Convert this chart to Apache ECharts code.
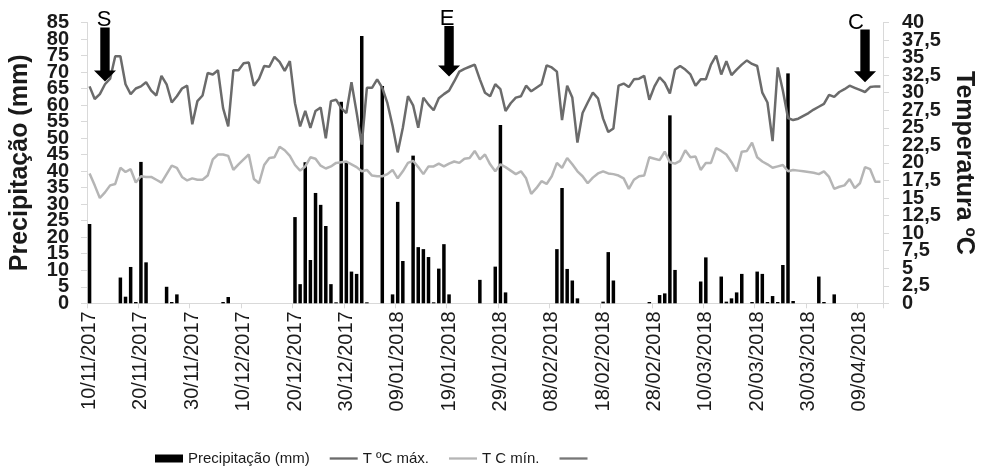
<!DOCTYPE html>
<html>
<head>
<meta charset="utf-8">
<script src="https://cdn.jsdelivr.net/npm/echarts@6/dist/echarts.min.js"></script>
<style>
html,body{margin:0;padding:0;background:#fff;}
#chart{width:984px;height:476px;}
</style>
</head>
<body>
<div id="chart"></div>
<script>
// ---- data (daily, 10/11/2017 .. 13/04/2018) ----
const startDay = [2017, 10, 10]; // year, month index, day
const dayCount = 155;

const precipitation = [
  24, 0, 0, 0, 0, 0, 7.8, 2, 11, 0.4,
  42.8, 12.4, 0, 0, 0, 5, 0.4, 2.7, 0, 0,
  0, 0, 0, 0, 0, 0, 0.4, 1.9, 0, 0,
  0, 0, 0, 0, 0, 0, 0, 0, 0, 0,
  26.1, 5.8, 42.7, 13.1, 33.4, 29.8, 23.4, 5.8, 0.3, 61,
  42.5, 9.6, 8.9, 80.9, 0.3, 0, 0, 65.8, 0, 2.7,
  30.7, 12.8, 0, 44.7, 17, 16.4, 14, 0.3, 10.5, 17.9,
  2.7, 0, 0, 0, 0, 0, 7.1, 0, 0, 11.1,
  54, 3.3, 0, 0, 0, 0, 0, 0, 0, 0,
  0, 16.4, 34.9, 10.4, 6.9, 1.5, 0, 0, 0, 0,
  0.5, 15.5, 6.9, 0, 0, 0, 0, 0, 0, 0.4,
  0, 2.5, 3, 56.9, 10.1, 0, 0, 0, 0, 6.6,
  13.9, 0, 0, 8.1, 0.5, 1.5, 3.3, 8.9, 0, 0.4,
  9.6, 8.9, 0.4, 2.2, 0.4, 11.6, 69.6, 0.7, 0, 0,
  0, 0, 8.1, 0.4, 0, 2.7, 0, 0, 0, 0,
  0, 0, 0, 0, 0
];

const tempMax = [
  30.9, 29.1, 29.8, 31.2, 32.0, 35.2, 35.2, 31.2, 29.8, 30.6,
  30.9, 31.5, 30.3, 29.6, 32.4, 31.2, 28.6, 29.5, 30.6, 31.0,
  25.5, 28.8, 29.6, 32.8, 32.6, 33.2, 27.8, 25.2, 33.2, 33.2,
  34.2, 34.3, 31.0, 32.0, 33.8, 33.7, 35.1, 34.4, 33.1, 34.5,
  28.5, 25.2, 27.4, 25.0, 27.4, 27.9, 23.5, 28.8, 29.0, 27.8,
  27.1, 31.5, 27.2, 22.6, 30.7, 30.7, 31.9, 30.7, 28.5, 25.3,
  21.5, 25.0, 29.5, 28.2, 25.0, 29.3, 28.3, 27.5, 29.2, 29.8,
  30.3, 31.6, 33.0, 33.4, 33.7, 34.0, 31.9, 30.0, 29.5, 31.2,
  30.5, 27.4, 28.5, 29.3, 29.5, 31.0, 30.2, 30.7, 31.2, 33.9,
  33.6, 33.0, 26.1, 31.0, 29.3, 22.9, 27.1, 28.6, 30.0, 29.2,
  26.3, 24.4, 24.9, 31.0, 31.3, 30.8, 31.9, 32.0, 32.4, 29.0,
  30.9, 32.2, 31.4, 29.9, 33.3, 33.8, 33.3, 32.6, 31.0, 31.9,
  31.9, 34.0, 35.3, 32.6, 34.5, 32.5, 33.3, 34.0, 34.6, 34.1,
  33.8, 30.0, 28.6, 23.1, 33.6, 30.3, 26.4, 26.1, 26.3, 26.7,
  27.1, 27.6, 28.0, 28.4, 29.7, 29.4, 30.1, 30.5, 31.0, 30.7,
  30.4, 30.1, 30.8, 30.9, 30.9
];

const tempMin = [
  18.5, 16.8, 15.0, 15.8, 16.8, 17.0, 19.3, 18.7, 19.1, 17.2,
  18.1, 18.0, 18.0, 17.6, 17.2, 18.4, 19.6, 19.3, 18.0, 17.5,
  17.8, 17.6, 17.6, 18.2, 20.5, 21.2, 21.2, 21.0, 19.0, 19.8,
  20.5, 21.2, 17.7, 17.1, 19.7, 20.7, 20.8, 22.3, 21.8, 21.0,
  19.7, 18.9, 19.5, 20.8, 20.6, 19.6, 19.2, 19.5, 20.0, 20.1,
  20.2, 19.8, 19.4, 18.8, 19.0, 18.2, 18.1, 18.1, 18.4, 19.0,
  17.8, 18.8, 20.0, 20.3, 19.4, 18.4, 19.5, 19.5, 19.9, 19.5,
  19.9, 20.2, 20.0, 20.6, 20.7, 21.7, 20.5, 21.2, 19.8, 18.8,
  19.8, 19.4, 18.9, 18.4, 18.8, 17.8, 15.6, 16.4, 17.4, 17.0,
  18.1, 20.0, 19.3, 20.7, 19.8, 18.8, 18.1, 17.1, 17.9, 18.5,
  18.8, 18.5, 18.4, 18.2, 17.8, 16.3, 17.6, 18.1, 18.2, 20.8,
  20.6, 20.4, 21.6, 20.1, 19.9, 20.3, 21.8, 20.8, 20.9, 19.0,
  20.0, 20.0, 22.1, 21.7, 21.2, 20.1, 18.8, 21.6, 21.7, 22.9,
  20.8, 20.2, 19.8, 19.3, 19.5, 19.7, 18.8, 19.0, 18.9, 18.8,
  18.7, 18.6, 18.4, 18.8, 18.0, 16.3, 16.6, 16.8, 17.7, 16.4,
  17.1, 19.4, 19.1, 17.3, 17.3
];

// stage markers: label, day index, arrow tip (°C), arrow top (°C)
const markerLabels = ['S', 'E', 'C'];
const markerDays = [3, 70, 151];
const markerTip = [31.6, 32.3, 31.5];
const markerTop = [39.3, 39.5, 39.0];

// axis ranges and tick labels
const leftRange = {min: 0, max: 85, step: 5};
const rightRange = {min: 0, max: 40, step: 2.5};
const leftLabelsA = [0, 10, 20, 30, 40, 50, 60, 70, 80];
const leftLabelsB = [5, 15, 25, 35, 45, 55, 65, 75, 85];
const rightLabelsA = [0, 5, 10, 15, 20, 25, 30, 35, 40];
const rightLabelsB = [2.5, 7.5, 12.5, 17.5, 22.5, 27.5, 32.5, 37.5];

// ---- build categories ----
function pad(n){ return (n < 10 ? '0' : '') + n; }
const dates = [];
for (let i = 0; i < dayCount; i++) {
  const d = new Date(Date.UTC(startDay[0], startDay[1], startDay[2]) + i * 86400000);
  dates.push(pad(d.getUTCDate()) + '/' + pad(d.getUTCMonth() + 1) + '/' + d.getUTCFullYear());
}

const FONT = "'Liberation Sans', Arial, sans-serif";
const markerData = markerLabels.map((l, i) => [markerDays[i], markerTip[i], markerTop[i], l]);
const labelShift = {S: -1, E: -2, C: -9};
const LINE_ICON = 'path://M0 0H34V2.8H0Z';
const AXIS_GREY = '#d9d9d9';
const commaFmt = v => String(v).replace('.', ',');

function labelStyle(margin, values, fmt) {
  const s = {fontSize: 20, fontWeight: 'bold', color: '#1a1a1a', fontFamily: FONT, margin: margin,
    customValues: values, showMinLabel: true, showMaxLabel: true, hideOverlap: false};
  if (fmt) s.formatter = fmt;
  return s;
}

const chart = echarts.init(document.getElementById('chart'), null, {renderer: 'canvas'});
chart.setOption({
  animation: false,
  backgroundColor: '#ffffff',
  textStyle: {fontFamily: FONT},
  grid: {left: 87, right: 97, top: 22.5, bottom: 172.7, containLabel: false},
  legend: {
    left: 150, top: 446,
    itemWidth: 28, itemHeight: 8, itemGap: 20,
    textStyle: {fontFamily: FONT, fontSize: 15, color: '#1a1a1a'},
    data: [
      {name: 'Precipitação (mm)', icon: 'rect'},
      {name: 'T ºC máx.', icon: LINE_ICON},
      {name: 'T C mín.', icon: LINE_ICON},
      {name: ' ', icon: LINE_ICON}
    ]
  },
  xAxis: {
    type: 'category',
    data: dates,
    boundaryGap: true,
    axisLine: {show: true, lineStyle: {color: AXIS_GREY, width: 1}},
    axisTick: {show: true, interval: 9, length: 5, lineStyle: {color: AXIS_GREY}},
    axisLabel: {interval: 9, rotate: 90, fontSize: 20, color: '#1a1a1a', fontFamily: FONT, margin: 8},
    splitLine: {show: false}
  },
  yAxis: [
    {
      type: 'value', min: leftRange.min, max: leftRange.max, interval: leftRange.step,
      position: 'left',
      name: 'Precipitação (mm)', nameLocation: 'middle', nameGap: 54,
      nameTextStyle: {fontFamily: FONT, fontSize: 25, fontWeight: 'bold', color: '#1a1a1a'},
      axisLine: {show: true, lineStyle: {color: AXIS_GREY}},
      axisTick: {show: true, length: 6, lineStyle: {color: AXIS_GREY}},
      axisLabel: labelStyle(18, leftLabelsA),
      splitLine: {show: false}
    },
    {
      type: 'value', min: rightRange.min, max: rightRange.max, interval: rightRange.step,
      position: 'right',
      name: 'Temperatura ºC', nameLocation: 'middle', nameGap: 68, nameRotate: -90,
      nameTextStyle: {fontFamily: FONT, fontSize: 25, fontWeight: 'bold', color: '#1a1a1a'},
      axisLine: {show: true, lineStyle: {color: AXIS_GREY}},
      axisTick: {show: true, length: 6, lineStyle: {color: AXIS_GREY}},
      axisLabel: labelStyle(19, rightLabelsA, commaFmt),
      splitLine: {show: false}
    },
    {
      type: 'value', min: leftRange.min, max: leftRange.max, interval: leftRange.step,
      position: 'left', offset: 0,
      axisLine: {show: false}, axisTick: {show: false}, splitLine: {show: false},
      axisLabel: labelStyle(18, leftLabelsB)
    },
    {
      type: 'value', min: rightRange.min, max: rightRange.max, interval: rightRange.step,
      position: 'right', offset: 0,
      axisLine: {show: false}, axisTick: {show: false}, splitLine: {show: false},
      axisLabel: labelStyle(19, rightLabelsB, commaFmt)
    }
  ],
  series: [
    {
      name: 'Precipitação (mm)', type: 'bar', yAxisIndex: 0,
      data: precipitation, barWidth: 3.5,
      itemStyle: {color: '#000000'}, z: 2
    },
    {
      name: 'T ºC máx.', type: 'line', yAxisIndex: 1,
      data: tempMax, symbol: 'none', showSymbol: false, smooth: false,
      lineStyle: {color: '#6b6b6b', width: 2.5}, itemStyle: {color: '#6b6b6b'}, z: 3
    },
    {
      name: 'T C mín.', type: 'line', yAxisIndex: 1,
      data: tempMin, symbol: 'none', showSymbol: false, smooth: false,
      lineStyle: {color: '#b5b5b5', width: 2.5}, itemStyle: {color: '#b5b5b5'}, z: 3
    },
    {
      name: ' ', type: 'line', yAxisIndex: 1, data: [], symbol: 'none', showSymbol: false,
      lineStyle: {color: '#777777', width: 2.5}, itemStyle: {color: '#777777'}
    },
    {
      name: 'markers', type: 'custom', yAxisIndex: 1, z: 10, clip: false,
      data: markerData,
      renderItem: function (params, api) {
        const tip = api.coord([api.value(0), api.value(1)]);
        const top = api.coord([api.value(0), api.value(2)]);
        const x = tip[0], ty = tip[1], sy = top[1];
        const sw = 4.7, hw = 11, hh = 11;
        const label = markerData[params.dataIndex][3];
        return {
          type: 'group',
          children: [
            {type: 'polygon', shape: {points: [
              [x - sw, sy], [x + sw, sy], [x + sw, ty - hh], [x + hw, ty - hh],
              [x, ty], [x - hw, ty - hh], [x - sw, ty - hh]
            ]}, style: {fill: '#000000'}},
            {type: 'text', style: {text: label, x: x + (labelShift[label] || 0), y: sy - 7,
              font: '22px ' + FONT, fill: '#000000', align: 'center', verticalAlign: 'middle'}}
          ]
        };
      }
    }
  ]
});
</script>
</body>
</html>
